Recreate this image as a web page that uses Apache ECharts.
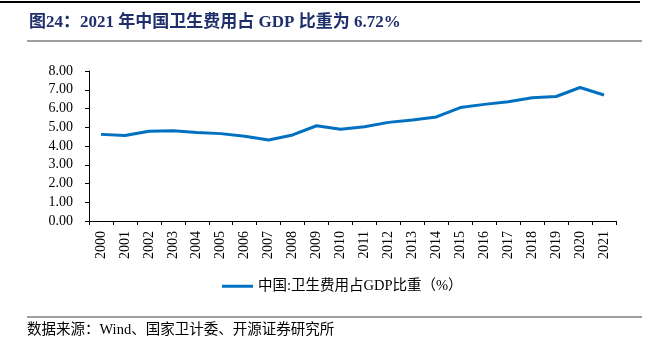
<!DOCTYPE html>
<html>
<head>
<meta charset="utf-8">
<script src="https://cdn.jsdelivr.net/npm/echarts@6/dist/echarts.min.js"></script>
<style>
  html, body { margin: 0; padding: 0; background: #fff; }
  #chart { width: 654px; height: 345px; }
</style>
</head>
<body>
<div id="chart"></div>
<script>
// Years on the category axis
const years = ['2000','2001','2002','2003','2004','2005','2006','2007','2008','2009','2010',
               '2011','2012','2013','2014','2015','2016','2017','2018','2019','2020','2021'];
// Health expenditure as share of GDP (%)
const healthShare = [4.62, 4.56, 4.79, 4.81, 4.72, 4.66, 4.52, 4.32, 4.59, 5.08, 4.89,
                     5.03, 5.26, 5.39, 5.55, 6.05, 6.22, 6.36, 6.57, 6.64, 7.12, 6.72];
const seriesName = '中国:卫生费用占GDP比重（%）';
const titleText = '图24：2021 年中国卫生费用占 GDP 比重为 6.72%';
const sourceText = '数据来源：Wind、国家卫计委、开源证券研究所';

const serif = '"Liberation Serif", "Noto Sans CJK SC", serif';
const chart = echarts.init(document.getElementById('chart'), null, { renderer: 'canvas' });

chart.setOption({
  animation: false,
  backgroundColor: '#fff',
  grid: { left: 89, right: 38, top: 71, bottom: 124 },
  legend: {
    data: [seriesName],
    top: 274,
    left: 217,
    itemWidth: 31,
    itemHeight: 3,
    itemGap: 4,
    icon: 'rect',
    textStyle: { fontFamily: serif, fontSize: 14.5, color: '#000' }
  },
  xAxis: {
    type: 'category',
    data: years,
    boundaryGap: true,
    axisLine: { lineStyle: { color: '#000', width: 1 } },
    axisTick: { show: true, length: 4, lineStyle: { color: '#000' } },
    axisLabel: { rotate: 90, fontFamily: serif, fontSize: 14, color: '#000', margin: 10 }
  },
  yAxis: {
    type: 'value',
    min: 0,
    max: 8,
    interval: 1,
    splitLine: { show: false },
    axisLine: { show: true, lineStyle: { color: '#000', width: 1 } },
    axisTick: { show: true, length: 4, lineStyle: { color: '#000' } },
    axisLabel: {
      fontFamily: serif, fontSize: 14, color: '#000', margin: 16,
      formatter: v => v.toFixed(2)
    }
  },
  series: [{
    name: seriesName,
    type: 'line',
    data: healthShare,
    symbol: 'none',
    lineStyle: { color: '#0070C0', width: 3 },
    itemStyle: { color: '#0070C0' }
  }],
  graphic: [
    { type: 'line', shape: { x1: 0, y1: 2, x2: 640, y2: 2 }, style: { stroke: '#000', lineWidth: 2 } },
    { type: 'text', left: 29, top: 14,
      style: { text: titleText, font: 'bold 17px ' + serif, fill: '#1F2F6B' } },
    { type: 'line', shape: { x1: 27, y1: 41, x2: 642, y2: 41 }, style: { stroke: '#7f7f7f', lineWidth: 1.5 } },
    { type: 'line', shape: { x1: 27, y1: 317, x2: 642, y2: 317 }, style: { stroke: '#7f7f7f', lineWidth: 1.5 } },
    { type: 'text', left: 27, top: 323,
      style: { text: sourceText, font: '14.5px ' + serif, fill: '#000' } }
  ]
});
</script>
</body>
</html>
